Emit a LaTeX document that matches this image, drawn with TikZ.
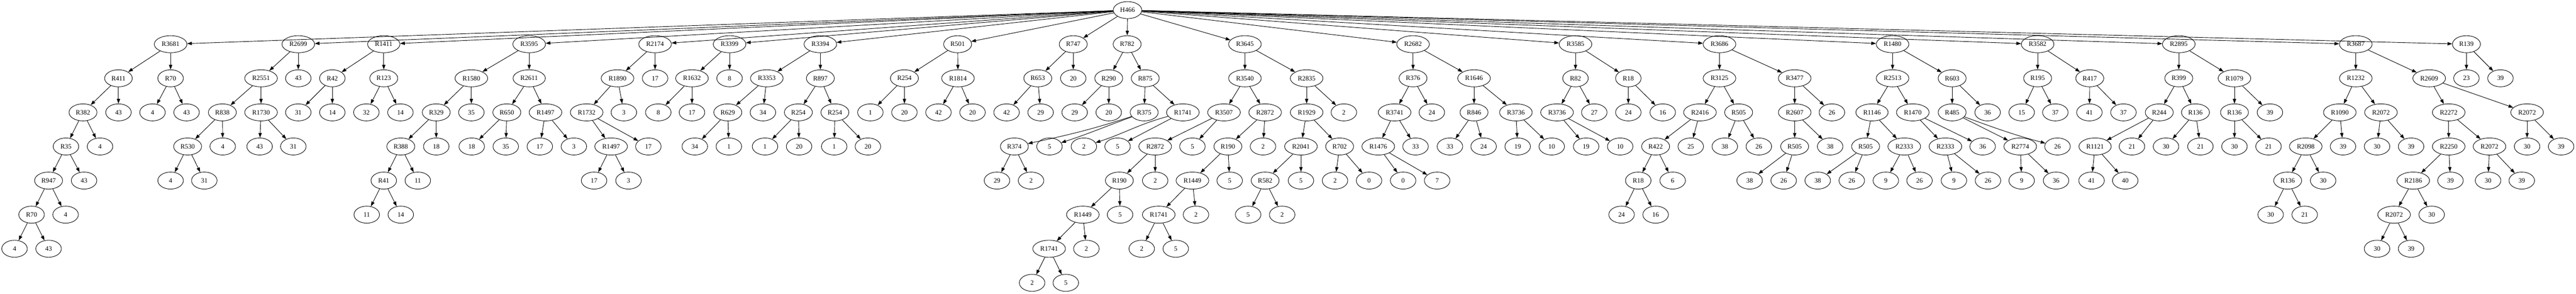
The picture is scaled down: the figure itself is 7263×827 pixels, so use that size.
\documentclass[tikz,border=0pt]{standalone}
\usepackage{fontspec}
\setmainfont{Liberation Serif}
\usetikzlibrary{shapes.geometric,arrows.meta}

\begin{document}
\begin{tikzpicture}[x=0.75pt,y=-0.75pt,line width=1pt,
        sym/.style={ellipse,draw,line width=1pt,minimum width=54pt,minimum height=36pt,
            inner xsep=5.75pt,inner ysep=1pt,font=\fontsize{14pt}{16pt}\selectfont},
        arr/.style={-{Triangle[length=10pt,width=7pt]}}]
        \useasboundingbox (0,0) rectangle (7263,827);

        % raiz
        \node[sym] (h) at (3179,28.5) {H466};

        % subarvore R3681
        \node[sym] (a) at (481,124.5) {R3681};
        \node[sym] (a1) at (334,220.5) {R411};
        \node[sym] (a2) at (481,220.5) {R70};
        \node[sym] (a3) at (234,316.5) {R382};
        \node[sym] (a4) at (334,316.5) {43};
        \node[sym] (a5) at (430,316.5) {4};
        \node[sym] (a6) at (526,316.5) {43};
        \node[sym] (a7) at (186,412.5) {R35};
        \node[sym] (a8) at (282,412.5) {4};
        \node[sym] (a9) at (137,508.5) {R947};
        \node[sym] (a10) at (237,508.5) {43};
        \node[sym] (a11) at (89,604.5) {R70};
        \node[sym] (a12) at (185,604.5) {4};
        \node[sym] (a13) at (41,700.5) {4};
        \node[sym] (a14) at (137,700.5) {43};
        \draw[arr] (a) edge (a1) edge (a2);
        \draw[arr] (a1) edge (a3) edge (a4);
        \draw[arr] (a2) edge (a5) edge (a6);
        \draw[arr] (a3) edge (a7) edge (a8);
        \draw[arr] (a7) edge (a9) edge (a10);
        \draw[arr] (a9) edge (a11) edge (a12);
        \draw[arr] (a11) edge (a13) edge (a14);

        % subarvore R2699
        \node[sym] (b) at (841,124.5) {R2699};
        \node[sym] (b1) at (736,220.5) {R2551};
        \node[sym] (b2) at (841,220.5) {43};
        \node[sym] (b3) at (627,316.5) {R838};
        \node[sym] (b4) at (736,316.5) {R1730};
        \node[sym] (b5) at (529,412.5) {R530};
        \node[sym] (b6) at (628,412.5) {4};
        \node[sym] (b7) at (732,412.5) {43};
        \node[sym] (b8) at (827,412.5) {31};
        \node[sym] (b9) at (481,508.5) {4};
        \node[sym] (b10) at (576,508.5) {31};
        \draw[arr] (b) edge (b1) edge (b2);
        \draw[arr] (b1) edge (b3) edge (b4);
        \draw[arr] (b3) edge (b5) edge (b6);
        \draw[arr] (b4) edge (b7) edge (b8);
        \draw[arr] (b5) edge (b9) edge (b10);

        % subarvore R1411
        \node[sym] (c) at (1082,124.5) {R1411};
        \node[sym] (c1) at (937,220.5) {R42};
        \node[sym] (c2) at (1082,220.5) {R123};
        \node[sym] (c3) at (841,316.5) {31};
        \node[sym] (c4) at (937,316.5) {14};
        \node[sym] (c5) at (1033,316.5) {32};
        \node[sym] (c6) at (1129,316.5) {14};
        \draw[arr] (c) edge (c1) edge (c2);
        \draw[arr] (c1) edge (c3) edge (c4);
        \draw[arr] (c2) edge (c5) edge (c6);

        % subarvore R3595
        \node[sym] (d) at (1492,124.5) {R3595};
        \node[sym] (d1) at (1329,220.5) {R1580};
        \node[sym] (d2) at (1492,220.5) {R2611};
        \node[sym] (d3) at (1230,316.5) {R329};
        \node[sym] (d4) at (1329,316.5) {35};
        \node[sym] (d5) at (1429,316.5) {R650};
        \node[sym] (d6) at (1538,316.5) {R1497};
        \node[sym] (d7) at (1130,412.5) {R388};
        \node[sym] (d8) at (1230,412.5) {18};
        \node[sym] (d9) at (1330,412.5) {18};
        \node[sym] (d10) at (1426,412.5) {35};
        \node[sym] (d11) at (1522,412.5) {17};
        \node[sym] (d12) at (1618,412.5) {3};
        \node[sym] (d13) at (1082,508.5) {R41};
        \node[sym] (d14) at (1178,508.5) {11};
        \node[sym] (d15) at (1034,604.5) {11};
        \node[sym] (d16) at (1130,604.5) {14};
        \draw[arr] (d) edge (d1) edge (d2);
        \draw[arr] (d1) edge (d3) edge (d4);
        \draw[arr] (d2) edge (d5) edge (d6);
        \draw[arr] (d3) edge (d7) edge (d8);
        \draw[arr] (d5) edge (d9) edge (d10);
        \draw[arr] (d6) edge (d11) edge (d12);
        \draw[arr] (d7) edge (d13) edge (d14);
        \draw[arr] (d13) edge (d15) edge (d16);

        % subarvore R2174
        \node[sym] (e) at (1847,124.5) {R2174};
        \node[sym] (e1) at (1741,220.5) {R1890};
        \node[sym] (e2) at (1847,220.5) {17};
        \node[sym] (e3) at (1654,316.5) {R1732};
        \node[sym] (e4) at (1759,316.5) {3};
        \node[sym] (e5) at (1723,412.5) {R1497};
        \node[sym] (e6) at (1828,412.5) {17};
        \node[sym] (e7) at (1675,508.5) {17};
        \node[sym] (e8) at (1772,508.5) {3};
        \draw[arr] (e) edge (e1) edge (e2);
        \draw[arr] (e1) edge (e3) edge (e4);
        \draw[arr] (e3) edge (e5) edge (e6);
        \draw[arr] (e5) edge (e7) edge (e8);

        % subarvore R3399
        \node[sym] (f) at (2057,124.5) {R3399};
        \node[sym] (f1) at (1951,220.5) {R1632};
        \node[sym] (f2) at (2057,220.5) {8};
        \node[sym] (f3) at (1856,316.5) {8};
        \node[sym] (f4) at (1951,316.5) {17};
        \draw[arr] (f) edge (f1) edge (f2);
        \draw[arr] (f1) edge (f3) edge (f4);

        % subarvore R3394
        \node[sym] (g) at (2313,124.5) {R3394};
        \node[sym] (g1) at (2162,220.5) {R3353};
        \node[sym] (g2) at (2313,220.5) {R897};
        \node[sym] (g3) at (2052,316.5) {R629};
        \node[sym] (g4) at (2151,316.5) {34};
        \node[sym] (g5) at (2251,316.5) {R254};
        \node[sym] (g6) at (2354,316.5) {R254};
        \node[sym] (g7) at (1959,412.5) {34};
        \node[sym] (g8) at (2055,412.5) {1};
        \node[sym] (g9) at (2157,412.5) {1};
        \node[sym] (g10) at (2253,412.5) {20};
        \node[sym] (g11) at (2352,412.5) {1};
        \node[sym] (g12) at (2447,412.5) {20};
        \draw[arr] (g) edge (g1) edge (g2);
        \draw[arr] (g1) edge (g3) edge (g4);
        \draw[arr] (g2) edge (g5) edge (g6);
        \draw[arr] (g3) edge (g7) edge (g8);
        \draw[arr] (g5) edge (g9) edge (g10);
        \draw[arr] (g6) edge (g11) edge (g12);

        % subarvore R501
        \node[sym] (i) at (2700,124.5) {R501};
        \node[sym] (i1) at (2550,220.5) {R254};
        \node[sym] (i2) at (2701,220.5) {R1814};
        \node[sym] (i3) at (2454,316.5) {1};
        \node[sym] (i4) at (2550,316.5) {20};
        \node[sym] (i5) at (2646,316.5) {42};
        \node[sym] (i6) at (2742,316.5) {20};
        \draw[arr] (i) edge (i1) edge (i2);
        \draw[arr] (i1) edge (i3) edge (i4);
        \draw[arr] (i2) edge (i5) edge (i6);

        % subarvore R747
        \node[sym] (j) at (3026,124.5) {R747};
        \node[sym] (j1) at (2926,220.5) {R653};
        \node[sym] (j2) at (3026,220.5) {20};
        \node[sym] (j3) at (2838,316.5) {42};
        \node[sym] (j4) at (2934,316.5) {29};
        \draw[arr] (j) edge (j1) edge (j2);
        \draw[arr] (j1) edge (j3) edge (j4);

        % subarvore R782
        \node[sym] (k) at (3178,124.5) {R782};
        \node[sym] (k1) at (3126,220.5) {R290};
        \node[sym] (k2) at (3229,220.5) {R875};
        \node[sym] (k3) at (3030,316.5) {29};
        \node[sym] (k4) at (3126,316.5) {20};
        \node[sym] (k5) at (3226,316.5) {R375};
        \node[sym] (k6) at (3335,316.5) {R1741};
        \node[sym] (k7) at (2860,412.5) {R374};
        \node[sym] (k8) at (2959,412.5) {5};
        \node[sym] (k9) at (3056,412.5) {2};
        \node[sym] (k10) at (3151,412.5) {5};
        \node[sym] (k11) at (2811,508.5) {29};
        \node[sym] (k12) at (2907,508.5) {2};
        \draw[arr] (k) edge (k1) edge (k2);
        \draw[arr] (k1) edge (k3) edge (k4);
        \draw[arr] (k2) edge (k5) edge (k6);
        \draw[arr] (k5) to[out=198,in=12] (k7);
        \draw[arr] (k5) to[out=200,in=18] (k8);
        \draw[arr] (k6) to[out=195,in=18] (k9);
        \draw[arr] (k6) edge (k10);
        \draw[arr] (k7) edge (k11) edge (k12);

        % subarvore R3645
        \node[sym] (l) at (3510,124.5) {R3645};
        \node[sym] (l1) at (3510,220.5) {R3540};
        \node[sym] (l2) at (3684,220.5) {R2835};
        \node[sym] (l3) at (3451,316.5) {R3507};
        \node[sym] (l4) at (3567,316.5) {R2872};
        \node[sym] (l5) at (3684,316.5) {R1929};
        \node[sym] (l6) at (3789,316.5) {2};
        \node[sym] (l7) at (3257,412.5) {R2872};
        \node[sym] (l8) at (3362,412.5) {5};
        \node[sym] (l9) at (3462,412.5) {R190};
        \node[sym] (l10) at (3561,412.5) {2};
        \node[sym] (l11) at (3668,412.5) {R2041};
        \node[sym] (l12) at (3777,412.5) {R702};
        \node[sym] (l13) at (3156,508.5) {R190};
        \node[sym] (l14) at (3257,508.5) {2};
        \node[sym] (l15) at (3362,508.5) {R1449};
        \node[sym] (l16) at (3467,508.5) {5};
        \node[sym] (l17) at (3567,508.5) {R582};
        \node[sym] (l18) at (3668,508.5) {5};
        \node[sym] (l19) at (3764,508.5) {2};
        \node[sym] (l20) at (3860,508.5) {0};
        \node[sym] (l21) at (3053,604.5) {R1449};
        \node[sym] (l22) at (3158,604.5) {5};
        \node[sym] (l23) at (3267,604.5) {R1741};
        \node[sym] (l24) at (3372,604.5) {2};
        \node[sym] (l25) at (3519,604.5) {5};
        \node[sym] (l26) at (3615,604.5) {2};
        \node[sym] (l27) at (2958,700.5) {R1741};
        \node[sym] (l28) at (3063,700.5) {2};
        \node[sym] (l29) at (3219,700.5) {2};
        \node[sym] (l30) at (3315,700.5) {5};
        \node[sym] (l31) at (2910,796.5) {2};
        \node[sym] (l32) at (3005,796.5) {5};
        \draw[arr] (l) edge (l1) edge (l2);
        \draw[arr] (l1) edge (l3) edge (l4);
        \draw[arr] (l2) edge (l5) edge (l6);
        \draw[arr] (l3) edge (l7) edge (l8);
        \draw[arr] (l4) edge (l9) edge (l10);
        \draw[arr] (l5) edge (l11) edge (l12);
        \draw[arr] (l7) edge (l13) edge (l14);
        \draw[arr] (l9) edge (l15) edge (l16);
        \draw[arr] (l11) edge (l17) edge (l18);
        \draw[arr] (l12) edge (l19) edge (l20);
        \draw[arr] (l13) edge (l21) edge (l22);
        \draw[arr] (l15) edge (l23) edge (l24);
        \draw[arr] (l17) edge (l25) edge (l26);
        \draw[arr] (l21) edge (l27) edge (l28);
        \draw[arr] (l23) edge (l29) edge (l30);
        \draw[arr] (l27) edge (l31) edge (l32);

        % subarvore R2682
        \node[sym] (m) at (3984,124.5) {R2682};
        \node[sym] (m1) at (3984,220.5) {R376};
        \node[sym] (m2) at (4156,220.5) {R1646};
        \node[sym] (m3) at (3932,316.5) {R3741};
        \node[sym] (m4) at (4037,316.5) {24};
        \node[sym] (m5) at (4156,316.5) {R846};
        \node[sym] (m6) at (4274,316.5) {R3736};
        \node[sym] (m7) at (3886,412.5) {R1476};
        \node[sym] (m8) at (3991,412.5) {33};
        \node[sym] (m9) at (4088,412.5) {33};
        \node[sym] (m10) at (4183,412.5) {24};
        \node[sym] (m11) at (4279,412.5) {19};
        \node[sym] (m12) at (4375,412.5) {10};
        \node[sym] (m13) at (3956,508.5) {0};
        \node[sym] (m14) at (4052,508.5) {7};
        \draw[arr] (m) edge (m1) edge (m2);
        \draw[arr] (m1) edge (m3) edge (m4);
        \draw[arr] (m2) edge (m5) edge (m6);
        \draw[arr] (m3) edge (m7) edge (m8);
        \draw[arr] (m5) edge (m9) edge (m10);
        \draw[arr] (m6) edge (m11) edge (m12);
        \draw[arr] (m7) edge (m13) edge (m14);

        % subarvore R3585
        \node[sym] (n) at (4442,124.5) {R3585};
        \node[sym] (n1) at (4442,220.5) {R82};
        \node[sym] (n2) at (4591,220.5) {R18};
        \node[sym] (n3) at (4390,316.5) {R3736};
        \node[sym] (n4) at (4495,316.5) {27};
        \node[sym] (n5) at (4591,316.5) {24};
        \node[sym] (n6) at (4688,316.5) {16};
        \node[sym] (n7) at (4472,412.5) {19};
        \node[sym] (n8) at (4568,412.5) {10};
        \draw[arr] (n) edge (n1) edge (n2);
        \draw[arr] (n1) edge (n3) edge (n4);
        \draw[arr] (n2) edge (n5) edge (n6);
        \draw[arr] (n3) edge (n7) edge (n8);

        % subarvore R3686
        \node[sym] (o) at (4848,124.5) {R3686};
        \node[sym] (o1) at (4848,220.5) {R3125};
        \node[sym] (o2) at (5060,220.5) {R3477};
        \node[sym] (o3) at (4793,316.5) {R2416};
        \node[sym] (o4) at (4902,316.5) {R505};
        \node[sym] (o5) at (5060,316.5) {R2607};
        \node[sym] (o6) at (5165,316.5) {26};
        \node[sym] (o7) at (4668,412.5) {R422};
        \node[sym] (o8) at (4767,412.5) {25};
        \node[sym] (o9) at (4863,412.5) {38};
        \node[sym] (o10) at (4959,412.5) {26};
        \node[sym] (o11) at (5060,412.5) {R505};
        \node[sym] (o12) at (5160,412.5) {38};
        \node[sym] (o13) at (4619,508.5) {R18};
        \node[sym] (o14) at (4716,508.5) {6};
        \node[sym] (o15) at (4933,508.5) {38};
        \node[sym] (o16) at (5029,508.5) {26};
        \node[sym] (o17) at (4572,604.5) {24};
        \node[sym] (o18) at (4668,604.5) {16};
        \draw[arr] (o) edge (o1) edge (o2);
        \draw[arr] (o1) edge (o3) edge (o4);
        \draw[arr] (o2) edge (o5) edge (o6);
        \draw[arr] (o3) edge (o7) edge (o8);
        \draw[arr] (o4) edge (o9) edge (o10);
        \draw[arr] (o5) edge (o11) edge (o12);
        \draw[arr] (o7) edge (o13) edge (o14);
        \draw[arr] (o11) edge (o15) edge (o16);
        \draw[arr] (o13) edge (o17) edge (o18);

        % subarvore R1480
        \node[sym] (p) at (5336,124.5) {R1480};
        \node[sym] (p1) at (5336,220.5) {R2513};
        \node[sym] (p2) at (5504,220.5) {R603};
        \node[sym] (p3) at (5278,316.5) {R1146};
        \node[sym] (p4) at (5393,316.5) {R1470};
        \node[sym] (p5) at (5504,316.5) {R485};
        \node[sym] (p6) at (5604,316.5) {36};
        \node[sym] (p7) at (5260,412.5) {R505};
        \node[sym] (p8) at (5369,412.5) {R2333};
        \node[sym] (p9) at (5485,412.5) {R2333};
        \node[sym] (p10) at (5590,412.5) {36};
        \node[sym] (p11) at (5696,412.5) {R2774};
        \node[sym] (p12) at (5801,412.5) {26};
        \node[sym] (p13) at (5125,508.5) {38};
        \node[sym] (p14) at (5221,508.5) {26};
        \node[sym] (p15) at (5317,508.5) {9};
        \node[sym] (p16) at (5412,508.5) {26};
        \node[sym] (p17) at (5509,508.5) {9};
        \node[sym] (p18) at (5605,508.5) {26};
        \node[sym] (p19) at (5700,508.5) {9};
        \node[sym] (p20) at (5797,508.5) {36};
        \draw[arr] (p) edge (p1) edge (p2);
        \draw[arr] (p1) edge (p3) edge (p4);
        \draw[arr] (p2) edge (p5) edge (p6);
        \draw[arr] (p3) edge (p7) edge (p8);
        \draw[arr] (p4) edge (p9) edge (p10);
        \draw[arr] (p5) edge (p11);
        \draw[arr] (p5) to[out=-20,in=165] (p12);
        \draw[arr] (p7) edge (p13) edge (p14);
        \draw[arr] (p8) edge (p15) edge (p16);
        \draw[arr] (p9) edge (p17) edge (p18);
        \draw[arr] (p11) edge (p19) edge (p20);

        % subarvore R3582
        \node[sym] (q) at (5745,124.5) {R3582};
        \node[sym] (q1) at (5745,220.5) {R195};
        \node[sym] (q2) at (5892,220.5) {R417};
        \node[sym] (q3) at (5700,316.5) {15};
        \node[sym] (q4) at (5795,316.5) {37};
        \node[sym] (q5) at (5891,316.5) {41};
        \node[sym] (q6) at (5987,316.5) {37};
        \draw[arr] (q) edge (q1) edge (q2);
        \draw[arr] (q1) edge (q3) edge (q4);
        \draw[arr] (q2) edge (q5) edge (q6);

        % subarvore R2895
        \node[sym] (r) at (6143,124.5) {R2895};
        \node[sym] (r1) at (6143,220.5) {R399};
        \node[sym] (r2) at (6300,220.5) {R1079};
        \node[sym] (r3) at (6088,316.5) {R244};
        \node[sym] (r4) at (6190,316.5) {R136};
        \node[sym] (r5) at (6300,316.5) {R136};
        \node[sym] (r6) at (6400,316.5) {39};
        \node[sym] (r7) at (5907,412.5) {R1121};
        \node[sym] (r8) at (6011,412.5) {21};
        \node[sym] (r9) at (6107,412.5) {30};
        \node[sym] (r10) at (6204,412.5) {21};
        \node[sym] (r11) at (6300,412.5) {30};
        \node[sym] (r12) at (6396,412.5) {21};
        \node[sym] (r13) at (5897,508.5) {41};
        \node[sym] (r14) at (5992,508.5) {40};
        \draw[arr] (r) edge (r1) edge (r2);
        \draw[arr] (r1) edge (r3) edge (r4);
        \draw[arr] (r2) edge (r5) edge (r6);
        \draw[arr] (r3) edge (r7) edge (r8);
        \draw[arr] (r4) edge (r9) edge (r10);
        \draw[arr] (r5) edge (r11) edge (r12);
        \draw[arr] (r7) edge (r13) edge (r14);

        % subarvore R3687
        \node[sym] (s) at (6642,124.5) {R3687};
        \node[sym] (s1) at (6642,220.5) {R1232};
        \node[sym] (s2) at (6849,220.5) {R2609};
        \node[sym] (s3) at (6597,316.5) {R1090};
        \node[sym] (s4) at (6713,316.5) {R2072};
        \node[sym] (s5) at (6904,316.5) {R2272};
        \node[sym] (s6) at (7125,316.5) {R2072};
        \node[sym] (s7) at (6501,412.5) {R2098};
        \node[sym] (s8) at (6606,412.5) {39};
        \node[sym] (s9) at (6702,412.5) {30};
        \node[sym] (s10) at (6798,412.5) {39};
        \node[sym] (s11) at (6904,412.5) {R2250};
        \node[sym] (s12) at (7019,412.5) {R2072};
        \node[sym] (s13) at (7125,412.5) {30};
        \node[sym] (s14) at (7221,412.5) {39};
        \node[sym] (s15) at (6450,508.5) {R136};
        \node[sym] (s16) at (6550,508.5) {30};
        \node[sym] (s17) at (6804,508.5) {R2186};
        \node[sym] (s18) at (6909,508.5) {39};
        \node[sym] (s19) at (7015,508.5) {30};
        \node[sym] (s20) at (7110,508.5) {39};
        \node[sym] (s21) at (6402,604.5) {30};
        \node[sym] (s22) at (6498,604.5) {21};
        \node[sym] (s23) at (6750,604.5) {R2072};
        \node[sym] (s24) at (6856,604.5) {30};
        \node[sym] (s25) at (6702,700.5) {30};
        \node[sym] (s26) at (6798,700.5) {39};
        \draw[arr] (s) edge (s1) edge (s2);
        \draw[arr] (s1) edge (s3) edge (s4);
        \draw[arr] (s2) edge (s5) edge (s6);
        \draw[arr] (s3) edge (s7) edge (s8);
        \draw[arr] (s4) edge (s9) edge (s10);
        \draw[arr] (s5) edge (s11) edge (s12);
        \draw[arr] (s6) edge (s13) edge (s14);
        \draw[arr] (s7) edge (s15) edge (s16);
        \draw[arr] (s11) edge (s17) edge (s18);
        \draw[arr] (s12) edge (s19) edge (s20);
        \draw[arr] (s15) edge (s21) edge (s22);
        \draw[arr] (s17) edge (s23) edge (s24);
        \draw[arr] (s23) edge (s25) edge (s26);

        % subarvore R139
        \node[sym] (t) at (6954,124.5) {R139};
        \node[sym] (t1) at (6954,220.5) {23};
        \node[sym] (t2) at (7050,220.5) {39};
        \draw[arr] (t) edge (t1) edge (t2);

        % ligar raiz
        \draw[arr] (h) edge (a) edge (b) edge (c) edge (d) edge (e) edge (f) edge (g)
            edge (i) edge (j) edge (k) edge (l) edge (m) edge (n) edge (o) edge (p)
            edge (q) edge (r) edge (s) edge (t);
    \end{tikzpicture}
\end{document}
